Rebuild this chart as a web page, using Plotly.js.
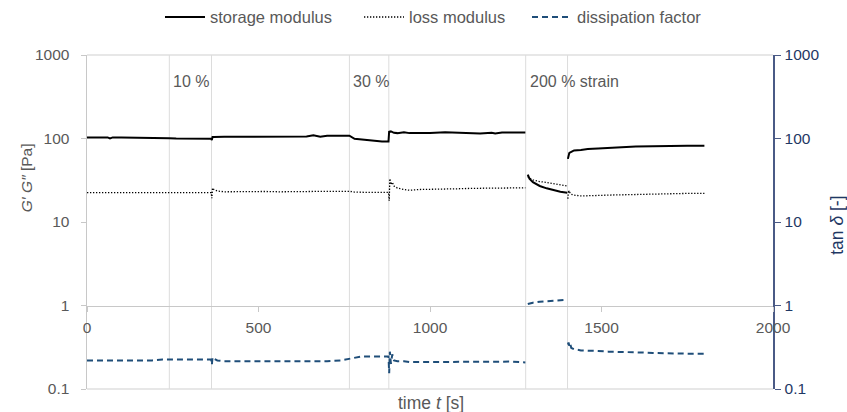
<!DOCTYPE html>
<html>
<head>
<meta charset="utf-8">
<script src="https://cdn.plot.ly/plotly-3.0.1.min.js"></script>
<style>html,body{margin:0;padding:0;background:#fff;}#chart{width:847px;height:412px;}</style>
</head>
<body>
<div id="chart"></div>
<script>
// time [s]; null rows break the lines between measurement steps
const time = [0, 20, 40, 60, 67, 75, 100, 130, 160, 190, 220, 240, 260, 290, 320, 350, 362, 364, 366, 370, 380, 400, 440, 480, 520, 560, 600, 640, 660, 670, 680, 700, 740, 765, 780, 800, 830, 860, 879, 881, 883, 886, 890, 895, 905, 924, 940, 970, 1000, 1044, 1080, 1110, 1146, 1180, 1190, 1210, 1240, 1278, 1281, 1285, 1290, 1300, 1320, 1340, 1360, 1380, 1400, 1401, 1402, 1404, 1406, 1408, 1412, 1420, 1440, 1460, 1490, 1520, 1560, 1600, 1650, 1700, 1750, 1800];
const storageModulus = [103, 103, 103, 103, 100, 103, 103, 103, 103, 102, 102, 101, 100, 100, 100, 100, 99, 96, 104, 104, 105, 105, 105, 105, 105, 105, 105, 106, 109, 106, 105, 108, 108, 108, 99, 97, 93, 92, 92, 123, 120, 122, 119, 117, 116, 119, 116, 116, 116, 119, 117, 116, 115, 117, 115, 118, 118, 118, null, 37, 33, 30, 27, 25.3, 24, 23, 22.4, null, 57, 64, 67, 68, 69, 72, 73, 75, 76, 77.5, 78.5, 80, 81, 82, 82, 82];
const lossModulus = [22.5, 22.5, 22.6, 22.5, 22.5, 22.6, 22.5, 22.6, 22.5, 22.6, 22.5, 22.5, 22.5, 22.6, 22.5, 22.5, 22.5, 19.3, 25.5, 24.5, 23.5, 23, 23.2, 23, 23.2, 23, 23.2, 23, 23.2, 23.2, 23.2, 23.3, 23.3, 23.3, 22.8, 22.6, 22.6, 22.6, 22.6, 18, 33, 28, 30, 27, 25.5, 24.5, 24, 24.5, 24.5, 25, 25, 25.2, 25.5, 25.5, 25.5, 25.5, 25.7, 25.7, null, 35, 33.5, 32, 30.5, 29.8, 28.8, 27.8, 27, null, 19, 24, 22, 22.5, 21.5, 21, 20.5, 20.5, 20.8, 21, 21.2, 21.5, 21.7, 22, 22, 22];
const dissipationFactor = [0.22, 0.22, 0.22, 0.22, 0.22, 0.22, 0.22, 0.22, 0.22, 0.22, 0.225, 0.225, 0.225, 0.225, 0.225, 0.225, 0.225, 0.195, 0.24, 0.23, 0.22, 0.215, 0.215, 0.215, 0.215, 0.215, 0.215, 0.215, 0.215, 0.215, 0.215, 0.215, 0.22, 0.23, 0.24, 0.245, 0.245, 0.245, 0.245, 0.155, 0.28, 0.2, 0.26, 0.22, 0.215, 0.215, 0.21, 0.21, 0.21, 0.21, 0.213, 0.213, 0.213, 0.213, 0.213, 0.213, 0.213, 0.208, null, 1.04, 1.06, 1.08, 1.11, 1.13, 1.15, 1.16, 1.17, null, 0.34, 0.36, 0.33, 0.355, 0.31, 0.30, 0.29, 0.29, 0.285, 0.28, 0.275, 0.275, 0.27, 0.265, 0.265, 0.265];

// times at which the strain amplitude was changed
const stepTimes = [240, 363, 765, 880, 1279, 1401];
const stepLabels = [{t: 240, text: '10 %'}, {t: 765, text: '30 %'}, {t: 1279, text: '200 % strain'}];

const xTicks = [0, 500, 1000, 1500, 2000];
const yTicks = [0.1, 1, 10, 100, 1000];
const yTickText = ['0.1', '1', '10', '100', '1000'];
const seriesNames = ['storage modulus', 'loss modulus', 'dissipation factor'];

const grey = '#595959';
const navy = '#1f3864';
const axisNavy = '#4a5a86';
const font = 'Liberation Sans, Arial, sans-serif';

const traces = [
  {x: time, y: storageModulus, name: seriesNames[0], mode: 'lines', line: {color: '#000', width: 2}, yaxis: 'y', connectgaps: false, legend: 'legend'},
  {x: time, y: lossModulus, name: seriesNames[1], mode: 'lines', line: {color: '#000', width: 1.3, dash: '1.3px,1.7px'}, yaxis: 'y', connectgaps: false, legend: 'legend2'},
  {x: time, y: dissipationFactor, name: seriesNames[2], mode: 'lines', line: {color: '#1f4e79', width: 2, dash: '6px,4px'}, yaxis: 'y2', connectgaps: false, legend: 'legend3'}
];

const shapes = [
  {type: 'line', xref: 'paper', yref: 'paper', x0: 0, x1: 1, y0: 1, y1: 1, line: {color: '#d0d0d0', width: 1.2}, layer: 'below'},
  {type: 'line', xref: 'paper', yref: 'paper', x0: 0, x1: 1, y0: 0, y1: 0, line: {color: '#d0d0d0', width: 1.2}, layer: 'below'}
];
stepTimes.forEach(t => shapes.push({type: 'line', xref: 'x', yref: 'paper', x0: t, x1: t, y0: 0, y1: 1, line: {color: '#dcdcdc', width: 1}, layer: 'below'}));

const annotations = stepLabels.map(s => ({x: s.t, y: 0.921, xref: 'x', yref: 'paper', text: s.text, showarrow: false, xanchor: 'left', yanchor: 'middle', xshift: 2, font: {family: font, size: 16, color: grey}}));
annotations.push({x: -0.089, y: 0.634, xref: 'paper', yref: 'paper', text: '<i>G′</i> <i>G″</i> [Pa]', textangle: -90, showarrow: false, xanchor: 'center', yanchor: 'middle', font: {family: font, size: 15.5, color: grey}});
annotations.push({x: 1.093, y: 0.491, xref: 'paper', yref: 'paper', text: 'tan <i>δ</i> [-]', textangle: -90, showarrow: false, xanchor: 'center', yanchor: 'middle', font: {family: font, size: 17.5, color: navy}});
annotations.push({x: 0.502, y: -0.041, xref: 'paper', yref: 'paper', text: 'time <i>t</i> [s]', showarrow: false, xanchor: 'center', yanchor: 'middle', font: {family: font, size: 17.5, color: grey}});

const tickFont = {family: font, size: 15.5, color: grey};
const legendBase = {orientation: 'h', xanchor: 'left', y: 1.113, yanchor: 'middle', font: {family: font, size: 16.5, color: grey}, bgcolor: 'rgba(0,0,0,0)', itemwidth: 40};

const layout = {
  width: 847, height: 412,
  margin: {l: 87, r: 74, t: 55, b: 23, pad: 0, autoexpand: false},
  paper_bgcolor: '#fff', plot_bgcolor: '#fff',
  font: {family: font, size: 15, color: grey},
  showlegend: true,
  legend: Object.assign({}, legendBase, {x: 0.1064}),
  legend2: Object.assign({}, legendBase, {x: 0.3965}),
  legend3: Object.assign({}, legendBase, {x: 0.6414}),
  xaxis: {range: [0, 2000], anchor: 'free', position: 0.25, showline: true, linecolor: '#c8c8c8', linewidth: 1.5, ticks: 'outside', ticklen: 5, tickcolor: '#c8c8c8', tickvals: xTicks, showgrid: false, zeroline: false, tickfont: tickFont, ticklabelstandoff: 2},
  xaxis2: {range: [0, 2000], overlaying: 'x', anchor: 'free', position: 0.25, showline: false, ticks: 'inside', ticklen: 4, tickcolor: '#c8c8c8', tickvals: xTicks, showticklabels: false, showgrid: false, zeroline: false},
  yaxis: {type: 'log', range: [-1, 3], tickvals: yTicks, ticktext: yTickText, showgrid: false, zeroline: false, showline: true, linecolor: '#c8c8c8', linewidth: 1.5, ticks: 'outside', ticklen: 5, tickcolor: '#c8c8c8', tickfont: tickFont, ticklabelstandoff: 8},
  yaxis2: {type: 'log', range: [-1, 3], overlaying: 'y', side: 'right', tickvals: yTicks, ticktext: yTickText, showgrid: false, zeroline: false, showline: true, linecolor: axisNavy, linewidth: 1.5, ticks: 'outside', ticklen: 6, tickcolor: axisNavy, tickfont: {family: font, size: 15.5, color: navy}, ticklabelstandoff: 1},
  yaxis3: {type: 'log', range: [-1, 3], overlaying: 'y', side: 'right', tickvals: yTicks, showticklabels: false, showgrid: false, zeroline: false, showline: false, ticks: 'inside', ticklen: 5, tickcolor: axisNavy},
  shapes: shapes,
  annotations: annotations
};

Plotly.newPlot('chart', traces, layout, {displayModeBar: false, staticPlot: true});
</script>
</body>
</html>
